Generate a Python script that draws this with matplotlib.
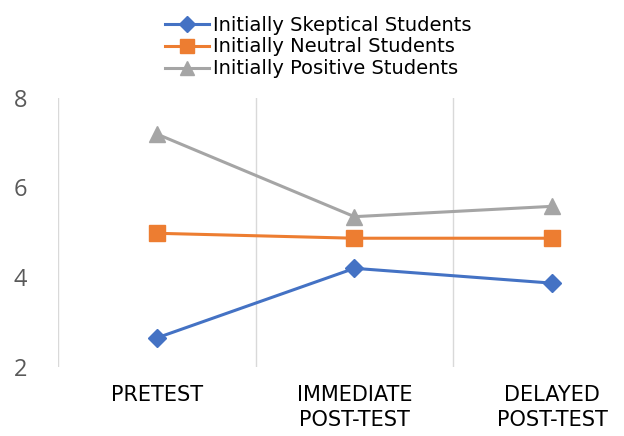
import matplotlib.pyplot as plt

# Data
stages = ["PRETEST", "IMMEDIATE\nPOST-TEST", "DELAYED\nPOST-TEST"]
skeptical = [2.65, 4.20, 3.87]
neutral = [4.98, 4.87, 4.87]
positive = [7.19, 5.35, 5.58]

fig = plt.figure(figsize=(6.24, 4.36), dpi=100)
ax = fig.add_axes([0.093, 0.158, 0.950, 0.618])

x = range(len(stages))
ax.plot(x, skeptical, color="#4472C4", lw=2.2, marker="D", ms=9,
        label="Initially Skeptical Students")
ax.plot(x, neutral, color="#ED7D31", lw=2.2, marker="s", ms=11,
        label="Initially Neutral Students")
ax.plot(x, positive, color="#A5A5A5", lw=2.2, marker="^", ms=11,
        label="Initially Positive Students")

ax.set_xlim(-0.5, 2.5)
ax.set_ylim(2, 8)
ax.set_yticks([2, 4, 6, 8])
ax.set_xticks(list(x))
ax.set_xticklabels(stages, fontsize=15, family="DejaVu Sans",
                   linespacing=1.3)
# vertical gridlines sit between categories
ax.set_xticks([-0.5, 0.5, 1.5, 2.5], minor=True)
ax.grid(True, axis="x", which="minor", color="#D9D9D9", lw=1)
ax.grid(False, axis="x", which="major")
ax.tick_params(axis="both", which="both", length=0)
ax.tick_params(axis="x", pad=13)
ax.tick_params(axis="y", pad=22, labelsize=17, labelcolor="#595959")
for lbl in ax.get_yticklabels():
    lbl.set_family("Open Sans")
for s in ax.spines.values():
    s.set_visible(False)

fig.legend(loc="upper center", bbox_to_anchor=(0.51, 1.0), frameon=False,
           prop={"family": "DejaVu Sans", "size": 14}, handlelength=2.3,
           handletextpad=0.2, labelspacing=0.15, borderaxespad=0.4,
           markerscale=0.9)

fig.savefig("out.png", dpi=100)
